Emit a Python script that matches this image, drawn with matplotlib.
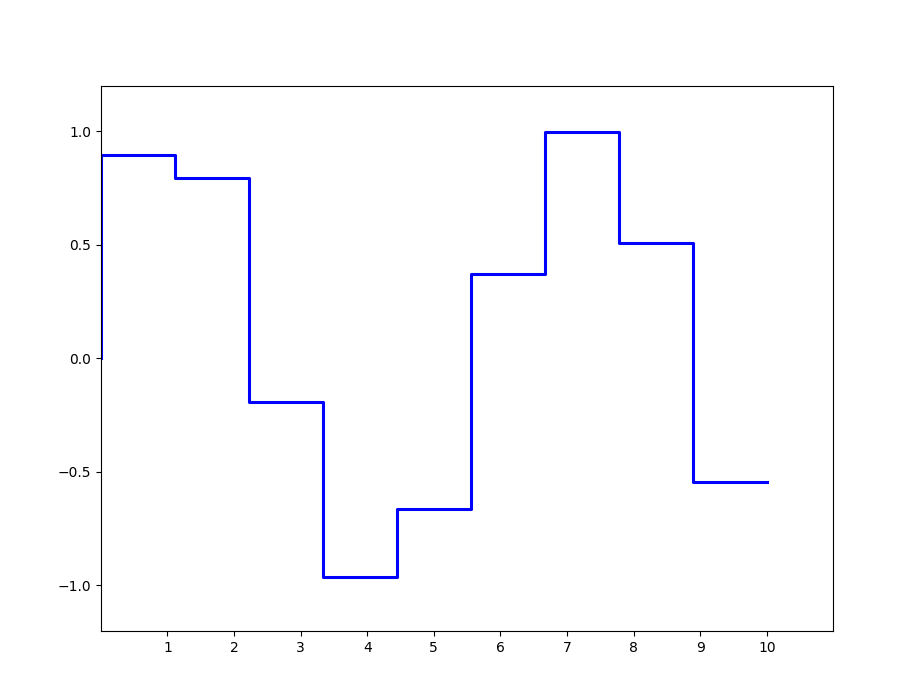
import matplotlib
matplotlib.use("Agg")
from matplotlib import pyplot as plt

# Sample positions and the values held on each step.
X_VALUES = [0.0, 1.111, 2.222, 3.333, 4.444, 5.556, 6.667, 7.778, 8.889, 10.0]
Y_VALUES = [0.0, 0.896, 0.795, -0.190, -0.964, -0.665, 0.374, 0.997, 0.510, -0.544]
X_TICKS = [1, 2, 3, 4, 5, 6, 7, 8, 9, 10]
Y_TICKS = [-1.0, -0.5, 0.0, 0.5, 1.0]


def _main():
    fig = plt.figure(figsize=(9, 6.94), dpi=100)
    ax = fig.add_axes([0.112, 0.091, 0.814, 0.785])
    ax.step(X_VALUES, Y_VALUES, where='pre', color='blue', linewidth=2.2)
    ax.set_xlim(0, 11)
    ax.set_ylim(-1.2, 1.2)
    ax.set_xticks(X_TICKS)
    ax.set_yticks(Y_TICKS)
    fig.savefig('out.png', dpi=100)


if __name__ == '__main__':
    _main()
